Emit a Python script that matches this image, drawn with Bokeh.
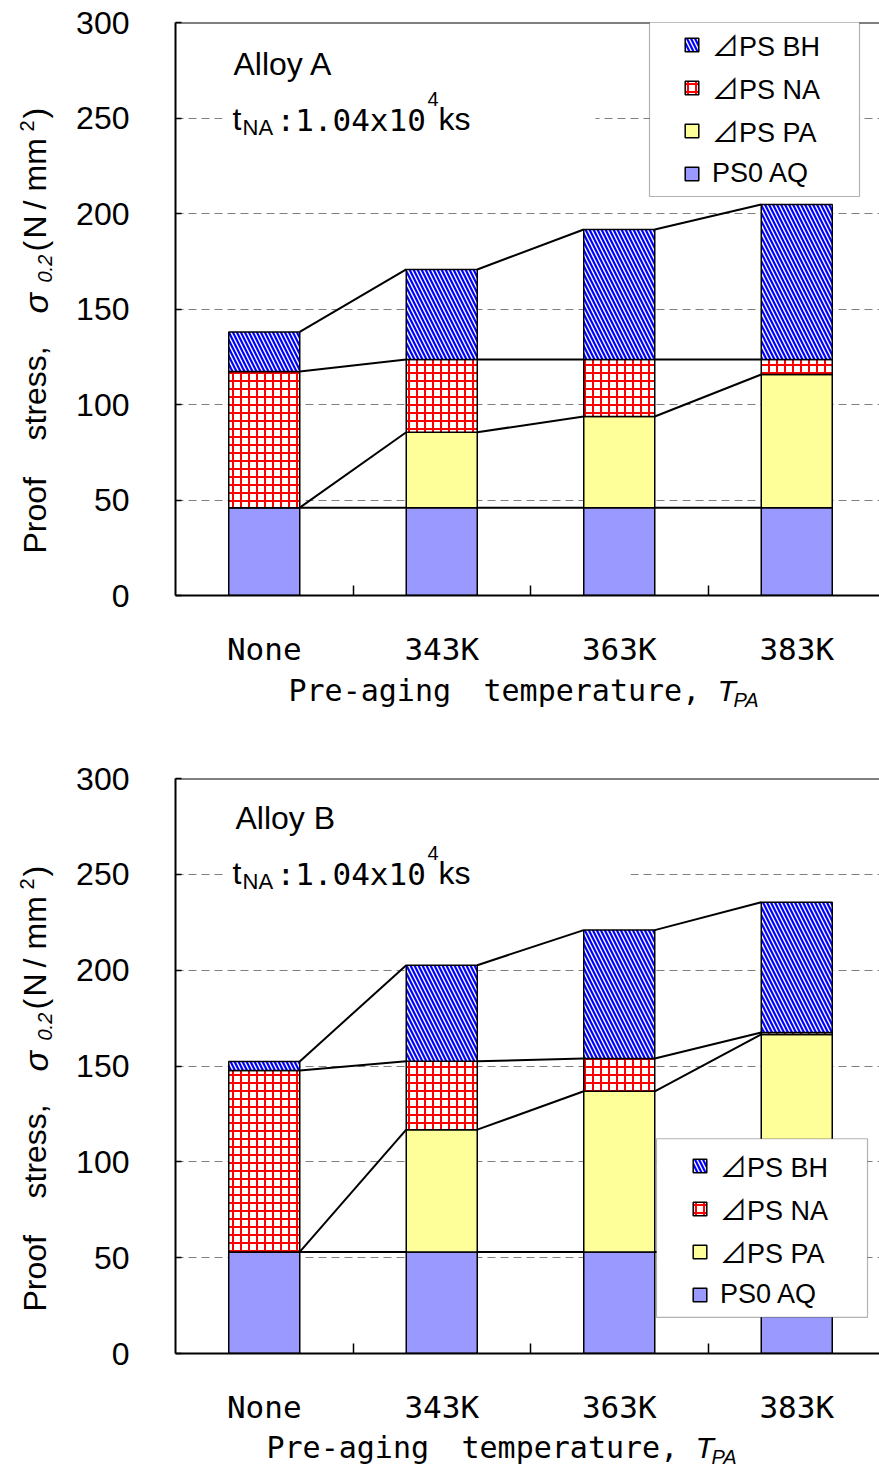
import math
from bokeh.plotting import figure
from bokeh.models import FixedTicker, Span, Label, Legend, LegendItem, BoxAnnotation
from bokeh.layouts import column, row
from bokeh.embed import file_html
from bokeh.resources import INLINE

# ---------------- data ----------------
categories = ["None", "343K", "363K", "383K"]
y_ticks = [0, 50, 100, 150, 200, 250, 300]
grid_ticks = [50, 100, 150, 200, 250]
series_names = ["PS0 AQ", "⊿PS PA", "⊿PS NA", "⊿PS BH"]

# Alloy A (N/mm^2), stacked components
a_aq = [46.0, 46.0, 46.0, 46.0]
a_pa = [0.0, 39.5, 47.7, 69.7]
a_na = [71.3, 38.1, 29.9, 7.9]
a_bh = [20.7, 47.1, 68.0, 81.1]

# Alloy B
b_aq = [53.0, 53.0, 53.0, 53.0]
b_pa = [0.0, 63.8, 83.8, 113.5]
b_na = [94.6, 35.7, 17.1, 1.0]
b_bh = [4.8, 50.1, 67.0, 67.9]

# ---------------- layout constants ----------------
W, H = 879, 734
YS = 60           # width of the y-title strip
FL = 175          # frame left (page px)
CAT = 177.5       # px per category
PXU = 573 / 300   # px per N/mm^2
BW = 0.4          # bar width (category units)
K = 0.35          # baseline -> middle offset (em)
SANS = "Liberation Sans"
MONO = "DejaVu Sans Mono"
LEG_FONT = "Liberation Sans, Noto Sans CJK JP"


def px2x(X):
    return (X - FL) / CAT - 0.5


def frame_text(p, fb, X, Yb, s, size, font=SANS, style="normal"):
    """text in the plot frame; X page px, Yb = baseline in figure px"""
    p.add_layout(Label(x=X - FL, y=fb - (Yb - K * size), x_units="screen", y_units="screen",
                       text=s, text_font=font, text_font_size=f"{size}px",
                       text_font_style=style, text_align="left",
                       text_baseline="middle", text_color="black"))


def strip_fig(w, h, xr):
    s = figure(width=w, height=h, x_range=xr, y_range=(h, 0), output_backend="svg",
               toolbar_location=None, x_axis_location=None, y_axis_location=None,
               min_border=0)
    s.grid.visible = False
    s.outline_line_color = None
    return s


def strip_text(s, X, Yb, s_txt, size, font=SANS, style="normal", rotated=False):
    if rotated:
        x, y, ang = X - K * size, Yb, math.pi / 2
    else:
        x, y, ang = X, Yb - K * size, 0.0
    s.add_layout(Label(x=x, y=y, text=s_txt, text_font=font, text_font_size=f"{size}px",
                       text_font_style=style, angle=ang, text_align="left",
                       text_baseline="middle", text_color="black"))


def make_chart(aq, pa, na, bh, top_border, frame_bottom, main_h, alloy, alloy_pos,
               tna_base, tna_box, leg_box, leg_loc, xtitle_x, xtitle_base):
    fb = frame_bottom
    p = figure(width=W - YS, height=main_h, x_range=(-0.5, px2x(W)),
               y_range=(0, 300), output_backend="svg", toolbar_location=None,
               min_border_left=FL - YS, min_border_right=0, min_border_top=top_border,
               min_border_bottom=main_h - fb)
    p.outline_line_color = None

    # y axis
    p.yaxis.ticker = FixedTicker(ticks=y_ticks)
    p.yaxis.axis_line_width = 2
    p.yaxis.axis_line_color = "black"
    p.yaxis.major_tick_in = 6
    p.yaxis.major_tick_out = 0
    p.yaxis.major_tick_line_width = 1.5
    p.yaxis.major_tick_line_color = "black"
    p.yaxis.minor_tick_line_color = None
    p.yaxis.major_label_standoff = 46
    p.yaxis.major_label_text_font = SANS
    p.yaxis.major_label_text_font_size = "32px"
    p.yaxis.major_label_text_color = "black"

    # x axis (labels at centres, ticks at category boundaries)
    p.xaxis.ticker = FixedTicker(ticks=[0, 1, 2, 3], minor_ticks=[0.5, 1.5, 2.5])
    p.xaxis.major_label_overrides = {i: c for i, c in enumerate(categories)}
    p.xaxis.axis_line_width = 2
    p.xaxis.axis_line_color = "black"
    p.xaxis.major_tick_line_color = None
    p.xaxis.minor_tick_in = 10
    p.xaxis.minor_tick_out = 0
    p.xaxis.minor_tick_line_width = 1.5
    p.xaxis.minor_tick_line_color = "black"
    p.xaxis.major_label_standoff = 29
    p.xaxis.major_label_text_font = MONO
    p.xaxis.major_label_text_font_size = "31px"
    p.xaxis.major_label_text_color = "black"

    p.xgrid.visible = False
    p.ygrid.ticker = FixedTicker(ticks=grid_ticks)
    p.ygrid.grid_line_color = "#808080"
    p.ygrid.grid_line_dash = "8 5"
    p.ygrid.grid_line_width = 1

    p.add_layout(Span(location=300, dimension="width", line_color="black", line_width=2))

    # stacked bars
    x = list(range(len(categories)))
    l1 = list(aq)
    l2 = [a + b for a, b in zip(l1, pa)]
    l3 = [a + b for a, b in zip(l2, na)]
    l4 = [a + b for a, b in zip(l3, bh)]

    common = dict(x=x, width=BW, line_color="black", line_width=1.5)
    r_aq = p.vbar(bottom=[0] * 4, top=l1, fill_color="#9999FF", **common)
    r_pa = p.vbar(bottom=l1, top=l2, fill_color="#FFFF99", **common)
    r_na = p.vbar(bottom=l2, top=l3, fill_color="white", hatch_pattern="cross",
                  hatch_color="red", hatch_scale=8, hatch_weight=2, **common)
    r_bh = p.vbar(bottom=l3, top=l4, fill_color="white", hatch_pattern="left_diagonal_line",
                  hatch_color="blue", hatch_scale=8, hatch_weight=2.2, **common)

    # series lines between adjacent bars
    x0 = [i + BW / 2 for i in x[:-1]]
    x1 = [i + 1 - BW / 2 for i in x[:-1]]
    for lev in (l1, l2, l3, l4):
        p.segment(x0=x0, y0=lev[:-1], x1=x1, y1=lev[1:], line_color="black", line_width=2)

    # white box behind the t_NA note (hides gridline)
    bl, br = tna_box
    p.add_layout(BoxAnnotation(left=px2x(bl), right=px2x(br), bottom=242, top=258,
                               fill_color="white", fill_alpha=1, line_color=None))

    # legend frame (white box with black border)
    lx0, lx1, ly0, ly1 = leg_box
    p.add_layout(BoxAnnotation(left=px2x(lx0), right=px2x(lx1),
                               top=(fb - ly0) / PXU, bottom=(fb - ly1) / PXU,
                               fill_color="white", fill_alpha=1,
                               line_color="black", line_width=1.2))

    legend = Legend(items=[LegendItem(label=series_names[3], renderers=[r_bh]),
                           LegendItem(label=series_names[2], renderers=[r_na]),
                           LegendItem(label=series_names[1], renderers=[r_pa]),
                           LegendItem(label=series_names[0], renderers=[r_aq])],
                    location=leg_loc)
    legend.glyph_width = 17
    legend.glyph_height = 17
    legend.label_standoff = 12
    legend.padding = 0
    legend.spacing = 3
    legend.label_height = 40
    legend.margin = 0
    legend.border_line_color = None
    legend.background_fill_alpha = 0
    legend.label_text_font = LEG_FONT
    legend.label_text_font_size = "27px"
    legend.label_text_color = "black"
    p.add_layout(legend)

    # notes inside the frame
    ax, ay = alloy_pos
    frame_text(p, fb, ax, ay, alloy, 32)
    tb = tna_base
    frame_text(p, fb, 232, tb, "t", 32)
    frame_text(p, fb, 242, tb + 5, "NA", 22)
    frame_text(p, fb, 276, tb, ":1.04x10", 31, font=MONO)
    frame_text(p, fb, 427, tb - 25, "4", 20)
    frame_text(p, fb, 438, tb, "ks", 32)

    # y-axis title strip (rotated pieces), page px
    ys = strip_fig(YS, H, (0, YS))
    yb = fb
    strip_text(ys, 46, yb - 42, "Proof", 32, rotated=True)
    strip_text(ys, 46, yb - 155, "stress,", 32, rotated=True)
    strip_text(ys, 47, yb - 282, "σ", 34, style="italic", rotated=True)
    strip_text(ys, 51, yb - 313, "0.2", 20, style="italic", rotated=True)
    strip_text(ys, 46, yb - 344, "(", 32, rotated=True)
    strip_text(ys, 46, yb - 357, "N", 32, rotated=True)
    strip_text(ys, 46, yb - 386, "/", 32, rotated=True)
    strip_text(ys, 46, yb - 404, "mm", 32, rotated=True)
    strip_text(ys, 33, yb - 464, "2", 20, rotated=True)
    strip_text(ys, 46, yb - 477, ")", 32, rotated=True)

    # x-axis title strip (its frame lines up with the plot frame: page px FL..W)
    xh = H - main_h
    xs = strip_fig(W - YS, xh, (FL, W))
    xb = xtitle_base - main_h
    strip_text(xs, xtitle_x, xb, "Pre-aging", 30, font=MONO)
    strip_text(xs, xtitle_x + 195, xb, "temperature,", 30, font=MONO)
    strip_text(xs, xtitle_x + 429, xb, "T", 30, style="italic")
    strip_text(xs, xtitle_x + 445, xb + 6, "PA", 20, style="italic")

    return row(ys, column(p, xs, spacing=0), spacing=0)


c1 = make_chart(a_aq, a_pa, a_na, a_bh, top_border=22, frame_bottom=595, main_h=670,
                alloy="Alloy A", alloy_pos=(233, 75), tna_base=130, tna_box=(222, 595),
                leg_box=(649, 859, 18, 196), leg_loc=(508, 402), xtitle_x=288,
                xtitle_base=700)
c2 = make_chart(b_aq, b_pa, b_na, b_bh, top_border=44, frame_bottom=619, main_h=694,
                alloy="Alloy B", alloy_pos=(235, 95), tna_base=150, tna_box=(225, 630),
                leg_box=(656, 867, 405, 583), leg_loc=(516, 39), xtitle_x=266,
                xtitle_base=723)

layout = column(c1, c2, spacing=0)
open("out.html", "w").write(file_html(layout, INLINE))
